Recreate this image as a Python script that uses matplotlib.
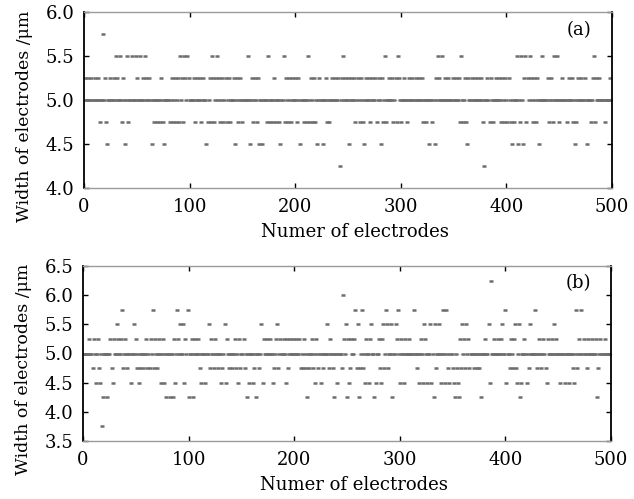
import numpy as np
import matplotlib.pyplot as plt

n_electrodes = 500
base_width = 5.0   # most electrodes sit on the 5.0 um row

# panel (a): electrode numbers read off each row that is not 5.0 um
a_575 = [18]
a_550 = [30, 34, 41, 45, 49, 53, 58, 91, 95, 98, 121, 126, 155, 174, 189, 212,
         242, 245, 285, 297, 335, 339, 357, 410, 414, 418, 422, 434, 445, 448, 483]
a_525 = [1, 4, 7, 10, 13, 20, 25, 28, 31, 34, 37, 45, 50, 53, 56, 59, 62, 73, 83,
         86, 89, 93, 96, 99, 104, 107, 110, 113, 116, 119, 122, 125, 128, 131,
         134, 137, 142, 145, 148, 159, 162, 165, 180, 191, 194, 197, 200, 203,
         212, 215, 218, 223, 226, 229, 235, 238, 241, 244, 247, 250, 253, 256,
         259, 262, 267, 270, 273, 276, 279, 282, 289, 292, 295, 298, 303, 308,
         311, 314, 317, 320, 333, 336, 339, 342, 345, 349, 352, 355, 361, 364,
         367, 370, 373, 376, 379, 382, 385, 390, 393, 396, 399, 402, 417, 420,
         423, 426, 429, 439, 442, 445, 448, 453, 459, 462, 465, 468, 471, 474,
         476, 482, 485, 488, 498]
a_475 = [10, 15, 21, 36, 39, 42, 66, 69, 72, 75, 81, 84, 87, 90, 94, 105, 111,
         117, 120, 123, 126, 129, 132, 135, 138, 146, 150, 157, 160, 164, 173,
         176, 179, 182, 185, 190, 193, 196, 202, 205, 208, 211, 214, 217, 219,
         230, 232, 235, 238, 241, 244, 247, 250, 253, 257, 261, 264, 271, 277,
         283, 286, 293, 296, 300, 306, 321, 324, 327, 330, 333, 356, 359, 362,
         367, 370, 373, 376, 378, 384, 387, 395, 398, 401, 404, 407, 410, 413,
         416, 419, 422, 425, 428, 431, 434, 440, 444, 450, 457, 463, 466, 480,
         484, 493]
a_450 = [22, 39, 64, 76, 116, 143, 157, 166, 169, 186, 205, 221, 226, 251, 265,
         281, 327, 332, 363, 405, 411, 416, 431, 465, 476]
a_425 = [242, 379]

# panel (b)
b_625 = [386]
b_600 = [246]
b_575 = [37, 66, 89, 99, 258, 264, 287, 298, 313, 341, 344, 400, 428, 467, 472]
b_550 = [32, 48, 92, 95, 119, 134, 169, 184, 212, 231, 249, 260, 273, 276, 284,
         288, 292, 296, 323, 329, 333, 337, 359, 363, 384, 397, 409, 413, 423, 446]
b_525 = [6, 10, 14, 18, 26, 29, 33, 36, 40, 50, 60, 64, 68, 72, 76, 79, 86, 90,
         97, 103, 106, 109, 121, 125, 131, 136, 144, 148, 152, 161, 171, 174,
         177, 180, 183, 187, 190, 193, 196, 199, 202, 205, 209, 217, 221, 225,
         234, 247, 251, 254, 257, 268, 272, 280, 283, 297, 301, 305, 309, 320,
         324, 339, 343, 347, 357, 361, 365, 377, 381, 389, 393, 396, 401, 405,
         408, 418, 432, 436, 440, 444, 448, 452, 456, 470, 474, 478, 482, 486,
         490, 494]
b_475 = [9, 15, 19, 23, 27, 38, 42, 45, 48, 51, 54, 57, 61, 63, 67, 70, 82, 111,
         116, 120, 124, 128, 132, 138, 141, 145, 149, 153, 162, 167, 181, 185,
         190, 194, 206, 208, 211, 214, 218, 220, 223, 227, 233, 237, 241, 245,
         253, 259, 262, 265, 277, 281, 285, 289, 293, 296, 313, 316, 330, 334,
         346, 350, 354, 358, 362, 366, 370, 373, 375, 393, 397, 400, 404, 407,
         410, 414, 418, 422, 430, 434, 438, 448, 452, 456, 460, 464, 468, 477, 488]
b_450 = [12, 16, 28, 45, 53, 74, 77, 87, 96, 112, 116, 131, 135, 147, 157, 161,
         170, 180, 192, 220, 225, 241, 252, 267, 271, 277, 282, 300, 304, 318,
         322, 326, 330, 339, 343, 347, 351, 355, 385, 401, 411, 415, 420, 439,
         452, 456, 460, 465]
b_425 = [19, 23, 79, 82, 85, 100, 104, 155, 164, 212, 238, 250, 261, 276, 293,
         332, 352, 356, 377, 414, 487]
b_375 = [18]


def build(levels):
    w = np.full(n_electrodes, base_width)
    for value, idx in levels:
        w[np.array(idx) - 1] = value
    return w


electrodes = np.arange(1, n_electrodes + 1)
width_a = build([(4.75, a_475), (5.25, a_525), (5.5, a_550), (4.5, a_450),
                 (5.75, a_575), (4.25, a_425)])
width_b = build([(4.75, b_475), (5.25, b_525), (5.5, b_550), (4.5, b_450),
                 (4.25, b_425), (5.75, b_575), (6.0, b_600), (6.25, b_625),
                 (3.75, b_375)])

plt.rcParams['font.family'] = 'DejaVu Serif'
fig = plt.figure(figsize=(6.34, 4.99), dpi=100)
ax1 = fig.add_axes([84 / 634, 1 - 188 / 499, 528 / 634, 176 / 499])
ax2 = fig.add_axes([83 / 634, 1 - 441 / 499, 528 / 634, 175 / 499])

for ax, w, ylim, yticks, tag in [
        (ax1, width_a, (4.0, 6.0), np.arange(4.0, 6.01, 0.5), '(a)'),
        (ax2, width_b, (3.5, 6.5), np.arange(3.5, 6.51, 0.5), '(b)')]:
    ax.axhline(5.0, color='#e4e4e4', lw=0.8, zorder=1)
    ax.plot(electrodes, w, ls='none', marker='_', ms=3.2, mew=1.8,
            color='#6e6e6e', zorder=2)
    ax.set_xlim(0, 500)
    ax.set_ylim(*ylim)
    ax.set_xticks([0, 100, 200, 300, 400, 500])
    ax.set_yticks(yticks)
    ax.yaxis.set_major_formatter(plt.FormatStrFormatter('%.1f'))
    ax.tick_params(direction='in', top=True, right=True, length=3.5,
                   width=1, labelsize=13, pad=7)
    for side in ['left', 'right']:
        ax.spines[side].set_linewidth(1.3)
        ax.spines[side].set_color('black')
    for side in ['top', 'bottom']:
        ax.spines[side].set_linewidth(1.0)
        ax.spines[side].set_color('#9a9a9a')
    ax.set_xlabel('Numer of electrodes', fontsize=13)
    ax.set_ylabel('Width of electrodes /μm', fontsize=12.5)
    ax.xaxis.set_label_coords(0.513, -0.2)
    ax.yaxis.set_label_coords(-0.097, 0.41)
    ax.text(0.938, 0.9, tag, transform=ax.transAxes, fontsize=13,
            ha='center', va='center')

fig.savefig('out.png', dpi=100)
